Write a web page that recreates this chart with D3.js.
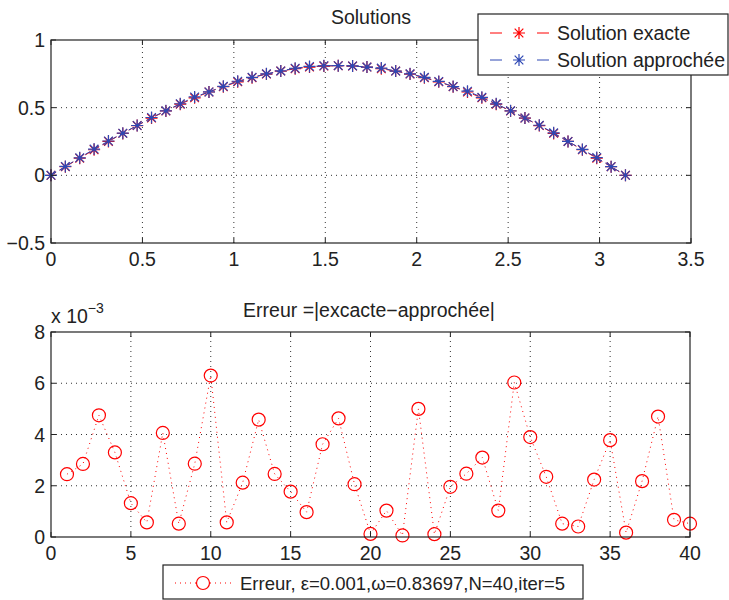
<!DOCTYPE html>
<html><head><meta charset="utf-8">
<script src="https://cdn.jsdelivr.net/npm/d3@7"></script>
<style>body{margin:0;background:#fff}text{font-family:"Liberation Sans",Arial,sans-serif;fill:#222}</style>
</head><body><svg id="c" width="729" height="600"></svg>
<script>
const xNodes=[0,0.0785,0.1571,0.2356,0.3142,0.3927,0.4712,0.5498,0.6283,0.7069,0.7854,0.8639,0.9425,1.0210,1.0996,1.1781,1.2566,1.3352,1.4137,1.4923,1.5708,1.6493,1.7279,1.8064,1.8850,1.9635,2.0420,2.1206,2.1991,2.2777,2.3562,2.4347,2.5133,2.5918,2.6704,2.7489,2.8274,2.9060,2.9845,3.0631,3.1416];
const exacte=[0,0.0636,0.1267,0.1891,0.2503,0.3100,0.3677,0.4232,0.4761,0.5260,0.5728,0.6159,0.6553,0.6906,0.7217,0.7483,0.7704,0.7876,0.8000,0.8075,0.8100,0.8075,0.8000,0.7876,0.7704,0.7483,0.7217,0.6906,0.6553,0.6159,0.5728,0.5260,0.4761,0.4232,0.3677,0.3100,0.2503,0.1891,0.1267,0.0636,0];
const approchee=[0,0.0661,0.1296,0.1939,0.2536,0.3113,0.3683,0.4273,0.4766,0.5289,0.5791,0.6165,0.6574,0.6952,0.7242,0.7501,0.7714,0.7912,0.8046,0.8096,0.8101,0.8085,0.8001,0.7926,0.7705,0.7503,0.7242,0.6937,0.6563,0.6219,0.5767,0.5284,0.4766,0.4236,0.3699,0.3138,0.2505,0.1913,0.1314,0.0643,0.0005];
const errIdx=[1,2,3,4,5,6,7,8,9,10,11,12,13,14,15,16,17,18,19,20,21,22,23,24,25,26,27,28,29,30,31,32,33,34,35,36,37,38,39,40];
const erreur=[2.45,2.85,4.75,3.30,1.32,0.57,4.06,0.52,2.86,6.30,0.57,2.12,4.58,2.46,1.77,0.97,3.62,4.63,2.06,0.12,1.03,0.06,5.00,0.11,1.96,2.47,3.10,1.03,6.03,3.90,2.35,0.52,0.41,2.24,3.78,0.17,2.18,4.70,0.67,0.52];
const topXTicks=[0,0.5,1,1.5,2,2.5,3,3.5];
const topYTicks=[-0.5,0,0.5,1];
const botXTicks=[0,5,10,15,20,25,30,35,40];
const botYTicks=[0,2,4,6,8];
const RED="#ff0000", BLUE="#2e48b4";
const FS=19.5;
const svg=d3.select("#c");

function panel(x,y,xt,yt,yFmt){
  const g=svg.append("g");
  xt.slice(1,-1).forEach(v=>g.append("line").attr("x1",x(v)).attr("x2",x(v)).attr("y1",y.range()[0]).attr("y2",y.range()[1]).attr("stroke","#333").attr("stroke-width",1).attr("stroke-dasharray","1,4"));
  yt.slice(1,-1).forEach(v=>g.append("line").attr("y1",y(v)).attr("y2",y(v)).attr("x1",x.range()[0]).attr("x2",x.range()[1]).attr("stroke","#333").attr("stroke-width",1).attr("stroke-dasharray","1,4"));
  const ax=svg.append("g");
  const [x0,x1]=x.range(), [y0,y1]=y.range();
  ax.append("rect").attr("x",x0).attr("y",y1).attr("width",x1-x0).attr("height",y0-y1).attr("fill","none").attr("stroke","#222").attr("stroke-width",1.2);
  xt.forEach(v=>{
    ax.append("line").attr("x1",x(v)).attr("x2",x(v)).attr("y1",y0).attr("y2",y0-5).attr("stroke","#222");
    ax.append("line").attr("x1",x(v)).attr("x2",x(v)).attr("y1",y1).attr("y2",y1+5).attr("stroke","#222");
    ax.append("text").attr("x",x(v)).attr("y",y0+23).attr("text-anchor","middle").attr("font-size",FS).text(String(v));
  });
  yt.forEach(v=>{
    ax.append("line").attr("x1",x0).attr("x2",x0+5).attr("y1",y(v)).attr("y2",y(v)).attr("stroke","#222");
    ax.append("line").attr("x1",x1).attr("x2",x1-5).attr("y1",y(v)).attr("y2",y(v)).attr("stroke","#222");
    ax.append("text").attr("x",x0-6).attr("y",y(v)+7).attr("text-anchor","end").attr("font-size",FS).text(yFmt(v));
  });
  return g;
}
function star(g,cx,cy,col,s){
  const d=s*0.72;
  g.append("path").attr("d",`M${cx-s},${cy}H${cx+s}M${cx},${cy-s}V${cy+s}M${cx-d},${cy-d}L${cx+d},${cy+d}M${cx-d},${cy+d}L${cx+d},${cy-d}`).attr("stroke",col).attr("stroke-width",1.2).attr("fill","none");
}
const minus=v=>v<0?"\u2212"+String(-v):String(v);

// top
const xT=d3.scaleLinear().domain([0,3.5]).range([51,691]);
const yT=d3.scaleLinear().domain([-0.5,1]).range([243,40]);
const gT=panel(xT,yT,topXTicks,topYTicks,minus);
const lineT=d3.line().x((d,i)=>xT(xNodes[i])).y(d=>yT(d));
[[exacte,RED],[approchee,BLUE]].forEach(([arr,col])=>{
  gT.append("path").attr("d",lineT(arr)).attr("fill","none").attr("stroke",col).attr("stroke-width",1).attr("stroke-dasharray","6,4");
  arr.forEach((v,i)=>star(gT,xT(xNodes[i]),yT(v),col,6));
});
svg.append("text").attr("x",371).attr("y",24).attr("text-anchor","middle").attr("font-size",FS).text("Solutions");
// top legend
const lg=svg.append("g");
lg.append("rect").attr("x",478).attr("y",14).attr("width",250).attr("height",61).attr("fill","#fff").attr("stroke","#222").attr("stroke-width",1.2);
[["Solution exacte",RED,33],["Solution approchée",BLUE,60]].forEach(([t,col,cy])=>{
  lg.append("line").attr("x1",490).attr("x2",549).attr("y1",cy).attr("y2",cy).attr("stroke",col).attr("stroke-dasharray","12,35");
  star(lg,519,cy,col,6);
  lg.append("text").attr("x",557).attr("y",cy+7).attr("font-size",FS).text(t);
});

// bottom
const xB=d3.scaleLinear().domain([0,40]).range([51,690]);
const yB=d3.scaleLinear().domain([0,8]).range([537,332]);
const gB=panel(xB,yB,botXTicks,botYTicks,String);
gB.append("path").attr("d",d3.line().x((d,i)=>xB(errIdx[i])).y(d=>yB(d))(erreur)).attr("fill","none").attr("stroke",RED).attr("stroke-width",1).attr("stroke-dasharray","1,4");
erreur.forEach((v,i)=>gB.append("circle").attr("cx",xB(errIdx[i])).attr("cy",yB(v)).attr("r",6.5).attr("fill","none").attr("stroke",RED).attr("stroke-width",1.2));
svg.append("text").attr("x",369).attr("y",317).attr("text-anchor","middle").attr("font-size",FS).text("Erreur =|excacte\u2212approchée|");
const ex=svg.append("text").attr("x",51).attr("y",323).attr("font-size",FS);
ex.append("tspan").text("x 10");
ex.append("tspan").attr("dy",-10).attr("font-size",14).text("\u22123");
// bottom legend
const lb=svg.append("g");
lb.append("rect").attr("x",163).attr("y",565).attr("width",420).attr("height",34).attr("fill","#fff").attr("stroke","#222").attr("stroke-width",1.2);
lb.append("line").attr("x1",175).attr("x2",232).attr("y1",583).attr("y2",583).attr("stroke",RED).attr("stroke-dasharray","1,4");
lb.append("circle").attr("cx",203).attr("cy",583).attr("r",6.5).attr("fill","#fff").attr("stroke",RED).attr("stroke-width",1.2);
lb.append("text").attr("x",240).attr("y",590).attr("font-size",18.5).text("Erreur, \u03b5=0.001,\u03c9=0.83697,N=40,iter=5");
</script></body></html>
